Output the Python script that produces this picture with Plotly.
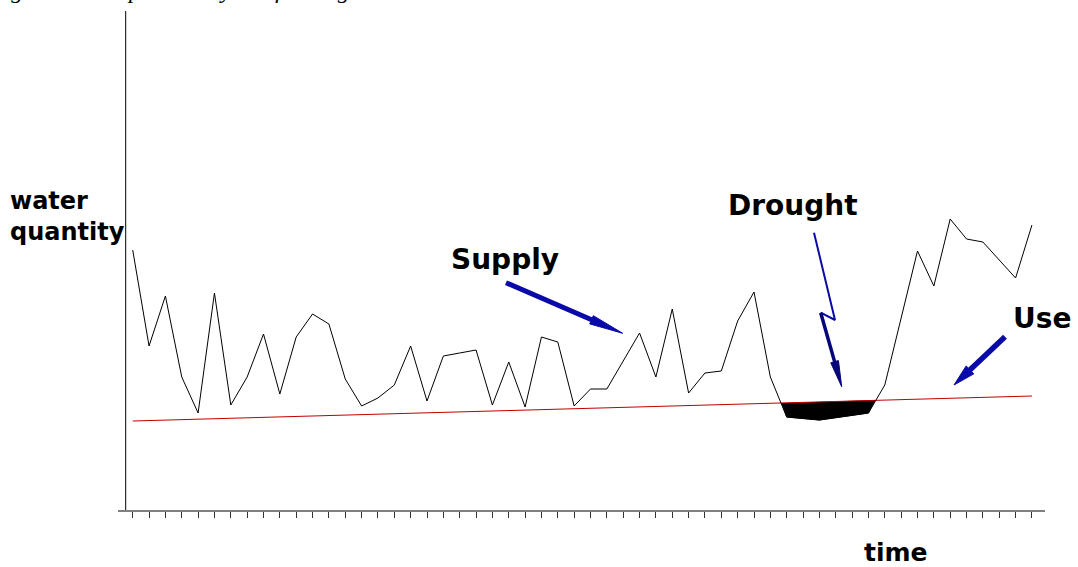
import math
import plotly.graph_objects as go

# ---- data (time index, water quantity) ----
supply_t = list(range(0, 30)) + [31, 32, 33, 34, 35, 36, 37, 38, 39, 40, 42, 45, 46, 48, 49, 50, 51, 52, 54, 55]
supply_q = [260, 164, 214, 133, 97, 217, 105, 133, 176, 116,
            173, 196, 186, 131, 104, 112, 125, 164, 109, 154,
            157, 160, 105, 148, 103, 173, 168, 104, 121, 121,
            177, 133, 201, 117, 137, 139, 189, 218, 133, 93,
            90, 97, 125, 259, 224, 291, 271, 268, 232, 285]
use_t = [0, 55]
use_q = [89, 114]
drought_t = [39.7, 40, 42, 45, 45.4]
drought_q = [107, 93, 90, 97, 110]
time_ticks = list(range(0, 56))

# ---- pixel helpers for decorations (annotations / pointer arrows) ----
X0PIX, DXPIX = 132.7, 16.35
PL, PR, PT, PB = 118, 1045, 11, 510
def px(p):
    return (p - X0PIX) / DXPIX
def py(p):
    return PB - p
def ppx(p):
    return (p - PL) / (PR - PL)
def ppy(p):
    return (PB - p) / (PB - PT)

BLUE = "#0a0aa8"

fig = go.Figure()
fig.add_trace(go.Scatter(x=drought_t, y=drought_q, mode="lines", fill="toself",
                         fillcolor="black", line=dict(color="black", width=1),
                         hoverinfo="skip", showlegend=False))
fig.add_trace(go.Scatter(x=use_t, y=use_q, mode="lines",
                         line=dict(color="#c00000", width=1), name="Use", showlegend=False))
fig.add_trace(go.Scatter(x=supply_t, y=supply_q, mode="lines",
                         line=dict(color="black", width=1), name="Supply", showlegend=False))
# drought zig-zag pointer (upper part)
fig.add_trace(go.Scatter(x=[px(814), px(835), px(820.7)], y=[py(232.7), py(320), py(312.7)],
                         mode="lines", line=dict(color=BLUE, width=2),
                         hoverinfo="skip", showlegend=False))

shapes = []
def arrow(x0, y0, x1, y1, w, head_len, head_half, color=BLUE):
    L = math.hypot(x1 - x0, y1 - y0)
    ux, uy = (x1 - x0) / L, (y1 - y0) / L
    bx, by = x1 - ux * head_len, y1 - uy * head_len
    nx, ny = -uy, ux
    shapes.append(dict(type="line", xref="x", yref="y", x0=px(x0), y0=py(y0),
                       x1=px(bx + ux * 2), y1=py(by + uy * 2), line=dict(color=color, width=w)))
    path = "M {},{} L {},{} L {},{} Z".format(
        px(bx + nx * head_half), py(by + ny * head_half),
        px(x1), py(y1),
        px(bx - nx * head_half), py(by - ny * head_half))
    shapes.append(dict(type="path", xref="x", yref="y", path=path,
                       fillcolor=color, line=dict(color=color, width=1)))
arrow(506, 282.7, 622.7, 333.3, 5, 34, 4.5)
arrow(820.7, 312.7, 841.7, 386.7, 3.5, 26, 4, color="#06067a")
arrow(1005, 336.7, 954, 385, 5.5, 22, 5.5)

shapes.append(dict(type="line", xref="x", yref="paper", x0=px(125.7), x1=px(125.7), y0=0, y1=1,
                   line=dict(color="black", width=1)))

annotations = []
def label(text, xc, yc, size, anchor="center"):
    annotations.append(dict(x=ppx(xc), y=ppy(yc), xref="paper", yref="paper", text=text,
                            showarrow=False, xanchor=anchor, yanchor="middle", align="left",
                            font=dict(family="DejaVu Sans", size=size, color="black", weight="bold")))
label("water<br>quantity", 8, 217, 24, anchor="left")
label("Supply", 504.5, 259.5, 28)
label("Drought", 792.5, 205, 28)
label("Use", 1042, 318, 28)
label("time", 896, 552, 25)

annotations.append(dict(x=ppx(-13), y=ppy(-10.5), xref="paper", yref="paper", xanchor="left",
                        yanchor="middle", text="Figure 1.  Graphic Analysis of Drought", showarrow=False,
                        font=dict(family="Liberation Serif", size=24, style="italic", color="black")))

fig.update_layout(
    width=1078, height=567,
    margin=dict(l=PL, r=1078 - PR, t=PT, b=567 - PB),
    paper_bgcolor="white", plot_bgcolor="white",
    annotations=annotations, shapes=shapes,
    xaxis=dict(range=[px(PL), px(PR)], tickvals=time_ticks, showticklabels=False,
               ticks="outside", ticklen=6, tickwidth=1, tickcolor="#333",
               showline=True, linecolor="#808080", linewidth=2,
               showgrid=False, zeroline=False),
    yaxis=dict(range=[0, PB - PT], showticklabels=False, showgrid=False, zeroline=False,
               showline=False, ticks=""),
)
fig.write_html("out.html", config={"displayModeBar": False},
               post_script="document.body.style.margin='0px';document.body.style.overflow='hidden';")
